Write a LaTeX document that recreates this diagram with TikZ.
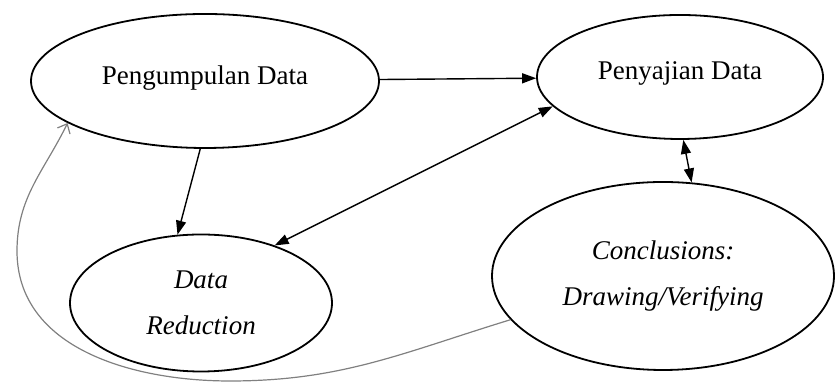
\documentclass[tikz,border=0pt]{standalone}
\usepackage{fontspec}
\setmainfont{Liberation Serif}
\usetikzlibrary{shapes.geometric,arrows.meta}
\begin{document}
\begin{tikzpicture}[x=0.5pt, y=0.5pt,
  main/.style = {draw, ellipse, line width=0.9pt, inner sep=0pt, align=center, font=\fontsize{13.5}{23}\selectfont},
  arr/.style = {line width=0.7pt, -{Triangle[length=7pt,width=5pt]}},
  both/.style = {line width=0.7pt, {Triangle[length=7pt,width=5pt]}-{Triangle[length=7pt,width=5pt]}},
  feedback/.style = {gray, line width=0.6pt, -{Straight Barb[length=4pt,width=7pt]}}]
\useasboundingbox (0,0) rectangle (835,383);
\node[main, minimum width=174pt, minimum height=67pt, text depth=6pt] (kumpul) at (205,302) {Pengumpulan Data};
\node[main, minimum width=143pt, minimum height=62pt, text depth=6pt] (saji) at (680,306) {Penyajian Data};
\node[main, minimum width=131pt, minimum height=68.5pt] (reduksi) at (201,80) {\itshape Data\\\itshape Reduction};
\node[main, minimum width=171pt, minimum height=94pt] (simpul) at (663,107) {\itshape Conclusions:\\\itshape Drawing/Verifying};
\draw[arr] (kumpul) -- (saji);
\draw[arr] (kumpul.-94) -- (reduksi.109);
\draw[both] (reduksi.38) -- (saji.193);
\draw[both] (saji.-87) -- (simpul.73);
% jalur balik ke pengumpulan data
\draw[feedback] (simpul.196) to[out=197,in=0] (230,2) to[out=180,in=270] (17,132) to[out=90,in=244] (kumpul.197);
\end{tikzpicture}
\end{document}
